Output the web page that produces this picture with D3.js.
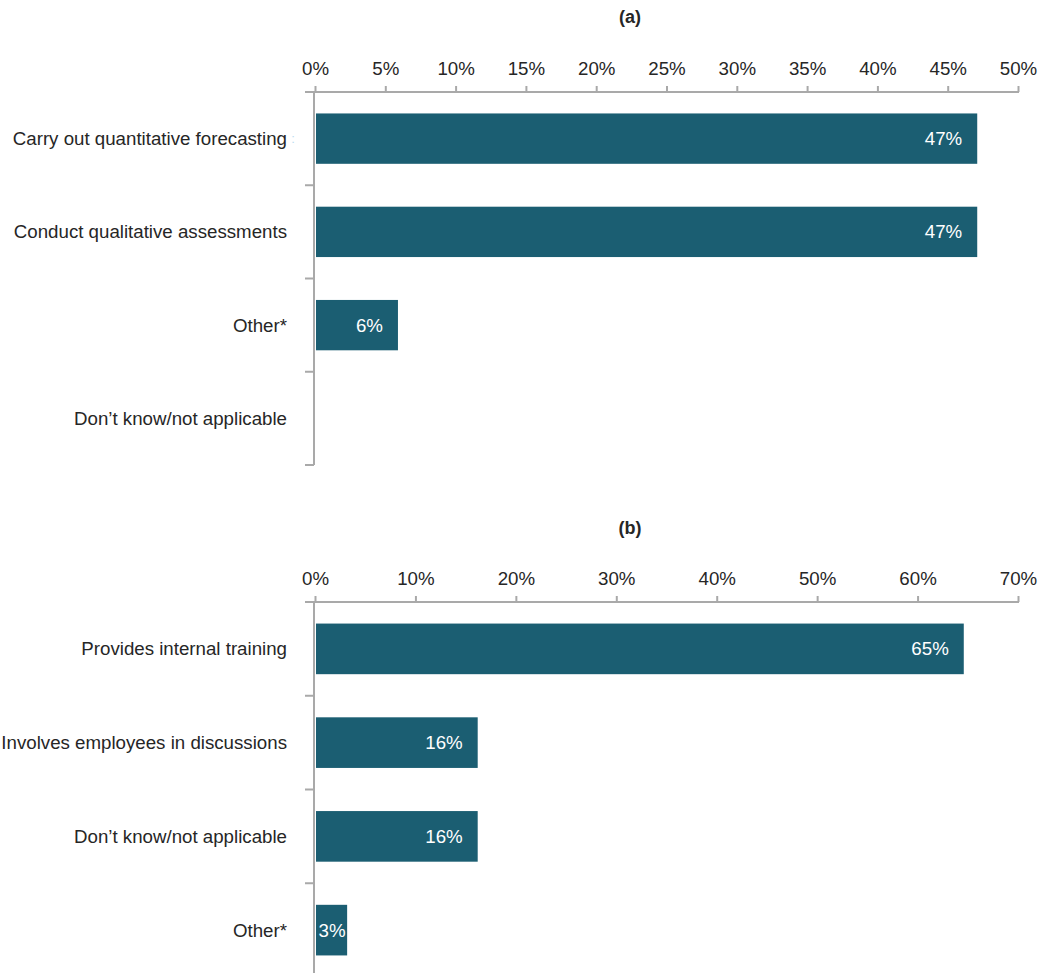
<!DOCTYPE html>
<html><head><meta charset="utf-8">
<script src="https://cdn.jsdelivr.net/npm/d3@7"></script>
<style>
body{margin:0;background:#fff;}
svg{display:block;font-family:"Liberation Sans",Arial,sans-serif;}
</style></head>
<body>
<svg id="chart" width="1039" height="973"></svg>
<script>
// Panel (a)
const catsA = ["Carry out quantitative forecasting","Conduct qualitative assessments","Other*","Don\u2019t know/not applicable"];
const valsA = [47.1, 47.1, 5.9, 0];
const labelsA = ["47%","47%","6%",""];
const ticksA = [0,5,10,15,20,25,30,35,40,45,50];
// Panel (b)
const catsB = ["Provides internal training","Involves employees in discussions","Don\u2019t know/not applicable","Other*"];
const valsB = [64.6, 16.2, 16.2, 3.2];
const labelsB = ["65%","16%","16%","3%"];
const ticksB = [0,10,20,30,40,50,60,70];

const svg = d3.select("#chart");
const BAR = "#1b5e72", AXIS = "#a9a9a9", TXT = "#262626";
const FS = 18.7;

function panel(opts){
  const {title, titleY, cats, vals, labels, ticks, max, top, bottom, artifact} = opts;
  const g = svg.append("g");
  const x = d3.scaleLinear().domain([0,max]).range([315,1018]);
  const y = d3.scaleBand().domain(cats).range([top,bottom]).paddingInner(0.46).paddingOuter(0.23);
  g.append("text").attr("x",630).attr("y",titleY).attr("text-anchor","middle")
    .attr("font-weight","bold").attr("font-size",18).attr("fill",TXT).text(title);
  // x axis
  const ax = g.append("g").attr("transform",`translate(0,${top})`)
    .call(d3.axisTop(x).tickValues(ticks).tickFormat(d=>d+"%").tickSize(6).tickSizeOuter(0).tickPadding(11));
  ax.select(".domain").remove();
  ax.selectAll(".tick line").attr("stroke",AXIS).attr("stroke-width",2);
  ax.selectAll(".tick text").attr("font-size",FS).attr("fill",TXT).attr("font-family","'Liberation Sans',Arial,sans-serif");
  g.append("line").attr("x1",305).attr("x2",x(max)+1).attr("y1",top).attr("y2",top)
    .attr("stroke",AXIS).attr("stroke-width",2);
  // y axis
  g.append("line").attr("x1",314).attr("x2",314).attr("y1",top).attr("y2",bottom)
    .attr("stroke",AXIS).attr("stroke-width",2);
  const step = y.step();
  const bounds = d3.range(1,cats.length+1).map(i=>y.range()[0]+i*step);
  g.selectAll(".cb").data(bounds).join("line").attr("x1",305).attr("x2",314)
    .attr("y1",d=>d).attr("y2",d=>d).attr("stroke",AXIS).attr("stroke-width",2);
  // category labels
  g.selectAll(".cl").data(cats).join("text").attr("x",287).attr("y",d=>y(d)+y.bandwidth()/2)
    .attr("dy","0.35em").attr("text-anchor","end").attr("font-size",FS).attr("fill",TXT).text(d=>d);
  if (artifact) {
    g.append("text").attr("x",293).attr("y",y(cats[0])+y.bandwidth()/2).attr("dy","0.35em")
      .attr("text-anchor","middle").attr("font-size",13).attr("fill","#b9dcef").text(":");
  }
  // bars
  const data = cats.map((c,i)=>({c,v:vals[i],l:labels[i]}));
  g.selectAll(".bar").data(data.filter(d=>d.v>0)).join("rect")
    .attr("x",x(0)+1).attr("y",d=>y(d.c)).attr("width",d=>x(d.v)-x(0)-1).attr("height",y.bandwidth())
    .attr("fill",BAR);
  g.selectAll(".vl").data(data.filter(d=>d.v>0)).join("text")
    .attr("x",d=>{const w=x(d.v)-x(0); return w<50? x(0)+1+w/2 : x(d.v)-15;})
    .attr("text-anchor",d=>(x(d.v)-x(0))<50?"middle":"end")
    .attr("y",d=>y(d.c)+y.bandwidth()/2).attr("dy","0.35em")
    .attr("font-size",FS).attr("fill","#fff").text(d=>d.l);
}

panel({title:"(a)",titleY:23,cats:catsA,vals:valsA,labels:labelsA,ticks:ticksA,max:50,top:92,bottom:465,artifact:true});
panel({title:"(b)",titleY:534,cats:catsB,vals:valsB,labels:labelsB,ticks:ticksB,max:70,top:602,bottom:977});
</script>
</body></html>
